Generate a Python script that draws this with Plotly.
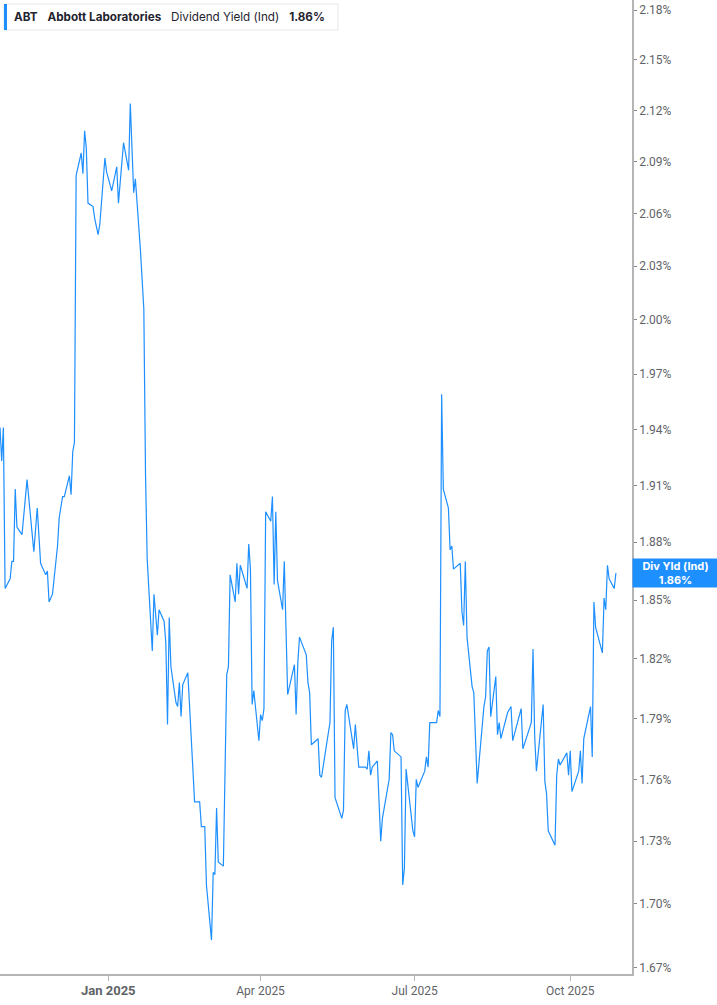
import math
import plotly.graph_objects as go

# ABT indicated dividend yield (%)
dates = [
    "2024-10-29", "2024-10-30", "2024-10-31", "2024-11-01", "2024-11-04", "2024-11-05", "2024-11-06",
    "2024-11-07", "2024-11-08", "2024-11-11", "2024-11-14", "2024-11-18", "2024-11-20", "2024-11-22",
    "2024-11-25", "2024-11-26", "2024-11-27", "2024-11-29", "2024-12-02", "2024-12-03", "2024-12-05",
    "2024-12-06", "2024-12-09", "2024-12-10", "2024-12-11", "2024-12-12", "2024-12-13", "2024-12-16",
    "2024-12-17", "2024-12-18", "2024-12-19", "2024-12-20", "2024-12-23", "2024-12-24", "2024-12-26",
    "2024-12-27", "2024-12-30", "2024-12-31", "2025-01-03", "2025-01-06", "2025-01-07", "2025-01-10",
    "2025-01-13", "2025-01-14", "2025-01-16", "2025-01-17", "2025-01-20", "2025-01-22", "2025-01-23",
    "2025-01-24", "2025-01-27", "2025-01-28", "2025-01-30", "2025-01-31", "2025-02-03", "2025-02-04",
    "2025-02-05", "2025-02-06", "2025-02-07", "2025-02-10", "2025-02-11", "2025-02-12", "2025-02-13",
    "2025-02-14", "2025-02-17", "2025-02-19", "2025-02-21", "2025-02-24", "2025-02-25", "2025-02-27",
    "2025-02-28", "2025-03-03", "2025-03-04", "2025-03-05", "2025-03-06", "2025-03-07", "2025-03-10",
    "2025-03-12", "2025-03-13", "2025-03-14", "2025-03-17", "2025-03-18", "2025-03-19", "2025-03-20",
    "2025-03-24", "2025-03-25", "2025-03-26", "2025-03-27", "2025-03-28", "2025-03-31", "2025-04-01",
    "2025-04-02", "2025-04-03", "2025-04-04", "2025-04-07", "2025-04-08", "2025-04-09", "2025-04-10",
    "2025-04-11", "2025-04-14", "2025-04-15", "2025-04-17", "2025-04-21", "2025-04-22", "2025-04-23",
    "2025-04-24", "2025-04-28", "2025-04-29", "2025-04-30", "2025-05-01", "2025-05-05", "2025-05-06",
    "2025-05-07", "2025-05-12", "2025-05-13", "2025-05-14", "2025-05-15", "2025-05-19", "2025-05-20",
    "2025-05-21", "2025-05-22", "2025-05-26", "2025-05-27", "2025-05-29", "2025-06-02", "2025-06-03",
    "2025-06-04", "2025-06-05", "2025-06-06", "2025-06-09", "2025-06-11", "2025-06-12", "2025-06-16",
    "2025-06-17", "2025-06-18", "2025-06-19", "2025-06-23", "2025-06-24", "2025-06-25", "2025-06-26",
    "2025-06-30", "2025-07-01", "2025-07-02", "2025-07-03", "2025-07-07", "2025-07-08", "2025-07-09",
    "2025-07-10", "2025-07-14", "2025-07-15", "2025-07-16", "2025-07-17", "2025-07-18", "2025-07-21",
    "2025-07-22", "2025-07-23", "2025-07-24", "2025-07-28", "2025-07-29", "2025-07-30", "2025-07-31",
    "2025-08-01", "2025-08-04", "2025-08-05", "2025-08-07", "2025-08-11", "2025-08-12", "2025-08-13",
    "2025-08-14", "2025-08-15", "2025-08-18", "2025-08-19", "2025-08-20", "2025-08-21", "2025-08-25",
    "2025-08-27", "2025-08-28", "2025-09-02", "2025-09-03", "2025-09-08", "2025-09-09", "2025-09-10",
    "2025-09-11", "2025-09-15", "2025-09-16", "2025-09-17", "2025-09-18", "2025-09-22", "2025-09-23",
    "2025-09-24", "2025-09-25", "2025-09-29", "2025-09-30", "2025-10-01", "2025-10-02", "2025-10-06",
    "2025-10-07", "2025-10-08", "2025-10-09", "2025-10-13", "2025-10-14", "2025-10-15", "2025-10-16",
    "2025-10-20", "2025-10-21", "2025-10-22", "2025-10-23", "2025-10-24", "2025-10-27", "2025-10-28",
]
yields = [
    1.941, 1.923, 1.941, 1.856, 1.861, 1.870, 1.870, 1.908, 1.888, 1.884, 1.913, 1.875, 1.898, 1.869,
    1.863, 1.865, 1.849, 1.853, 1.878, 1.893, 1.904, 1.904, 1.915, 1.905, 1.928, 1.933, 2.082, 2.095,
    2.083, 2.108, 2.098, 2.066, 2.064, 2.057, 2.048, 2.054, 2.092, 2.084, 2.073, 2.087, 2.066, 2.101,
    2.085, 2.124, 2.072, 2.080, 2.039, 2.006, 1.916, 1.871, 1.824, 1.853, 1.832, 1.845, 1.839, 1.828,
    1.787, 1.841, 1.816, 1.798, 1.796, 1.808, 1.791, 1.807, 1.813, 1.779, 1.749, 1.749, 1.737, 1.737,
    1.709, 1.683, 1.715, 1.714, 1.746, 1.720, 1.718, 1.812, 1.816, 1.863, 1.849, 1.869, 1.853, 1.868,
    1.856, 1.879, 1.866, 1.797, 1.804, 1.779, 1.792, 1.789, 1.795, 1.896, 1.891, 1.904, 1.858, 1.896,
    1.860, 1.845, 1.870, 1.802, 1.817, 1.792, 1.818, 1.831, 1.822, 1.808, 1.803, 1.777, 1.780, 1.762,
    1.761, 1.788, 1.829, 1.836, 1.751, 1.741, 1.745, 1.794, 1.797, 1.775, 1.787, 1.766, 1.766, 1.765,
    1.774, 1.762, 1.766, 1.769, 1.730, 1.741, 1.760, 1.783, 1.782, 1.774, 1.771, 1.709, 1.717, 1.765,
    1.735, 1.732, 1.760, 1.756, 1.764, 1.771, 1.766, 1.788, 1.788, 1.794, 1.791, 1.959, 1.908, 1.898,
    1.876, 1.878, 1.866, 1.869, 1.844, 1.837, 1.870, 1.831, 1.806, 1.803, 1.758, 1.796, 1.801, 1.824,
    1.826, 1.791, 1.811, 1.782, 1.788, 1.780, 1.793, 1.796, 1.779, 1.795, 1.775, 1.788, 1.825, 1.781,
    1.764, 1.797, 1.759, 1.753, 1.735, 1.728, 1.762, 1.770, 1.767, 1.773, 1.762, 1.774, 1.754, 1.764,
    1.774, 1.758, 1.780, 1.796, 1.771, 1.849, 1.836, 1.823, 1.851, 1.845, 1.868, 1.861, 1.856, 1.864,
]

y_ticks = [1.67, 1.70, 1.73, 1.76, 1.79, 1.82, 1.85, 1.88, 1.91, 1.94, 1.97, 2.00, 2.03, 2.06, 2.09, 2.12, 2.15, 2.18]
x_ticks = ["2025-01-01", "2025-04-01", "2025-07-01", "2025-10-01"]
x_labels = ["<b><span style='font-size:13px'>Jan 2025</span></b>", "Apr 2025", "Jul 2025", "Oct 2025"]

BLUE = "#1e8fff"
W, H = 717, 1005
PW, PH = 632, 974  # plot area size in px
tick_font = dict(family="Liberation Sans Narrow, Roboto, sans-serif", size=12, color="#5f6368")

fig = go.Figure()
fig.add_trace(go.Scatter(x=dates, y=yields, mode="lines",
                         line=dict(color=BLUE, width=1.2), showlegend=False, hoverinfo="skip"))

fig.update_layout(
    width=W, height=H,
    margin=dict(l=0, r=W - PW, t=0, b=H - PH),
    paper_bgcolor="white", plot_bgcolor="white",
    xaxis=dict(range=["2024-10-29", "2025-11-06 12:00"], tickvals=x_ticks, ticktext=x_labels,
               showgrid=False, zeroline=False, showline=True, linecolor="#b5b5b5", linewidth=2,
               ticks="outside", ticklen=5, tickcolor="#b5b5b5", tickfont=tick_font),
    yaxis=dict(type="log", side="right", range=[0.22199, 0.33967],
               tickvals=y_ticks, ticktext=[f"{v:.2f}%" for v in y_ticks],
               showgrid=False, zeroline=False, showline=True, linecolor="#b5b5b5", linewidth=1.5,
               ticks="outside", ticklen=3, tickcolor="#888", tickfont=tick_font),
)

# header box top left
fig.add_shape(type="rect", xref="paper", yref="paper",
              x0=4 / PW, x1=338 / PW, y0=1 - 30 / PH, y1=1 - 4 / PH,
              line=dict(color="#e6e6e6", width=1), fillcolor="white")
fig.add_shape(type="rect", xref="paper", yref="paper",
              x0=4 / PW, x1=7 / PW, y0=1 - 30 / PH, y1=1 - 4 / PH,
              line=dict(width=0), fillcolor=BLUE)
fig.add_annotation(xref="paper", yref="paper", x=12 / PW, y=1 - 17 / PH, xanchor="left", yanchor="middle",
                   showarrow=False,
                   text="<b>ABT</b>&nbsp;&nbsp;&nbsp;<b>Abbott Laboratories</b>&nbsp;&nbsp;&nbsp;"
                        "Dividend Yield (Ind)&nbsp;&nbsp;&nbsp;<b>1.86%</b>",
                   font=dict(family="Inter, sans-serif", size=11.7, color="#1f2430"))

# last value label on the axis
last = yields[-1]
fig.add_annotation(xref="paper", yref="y", x=1, y=math.log10(last), xanchor="left", yanchor="middle",
                   showarrow=False, width=W - PW - 2, height=26, bgcolor=BLUE, borderpad=1,
                   text=f"<b>Div Yld (Ind)</b><br><b>{last:.2f}%</b>",
                   font=dict(family="Inter, sans-serif", size=11, color="white"))

fig.write_html("out.html", config={"displayModeBar": False},
               post_script="document.body.style.margin='0';")
